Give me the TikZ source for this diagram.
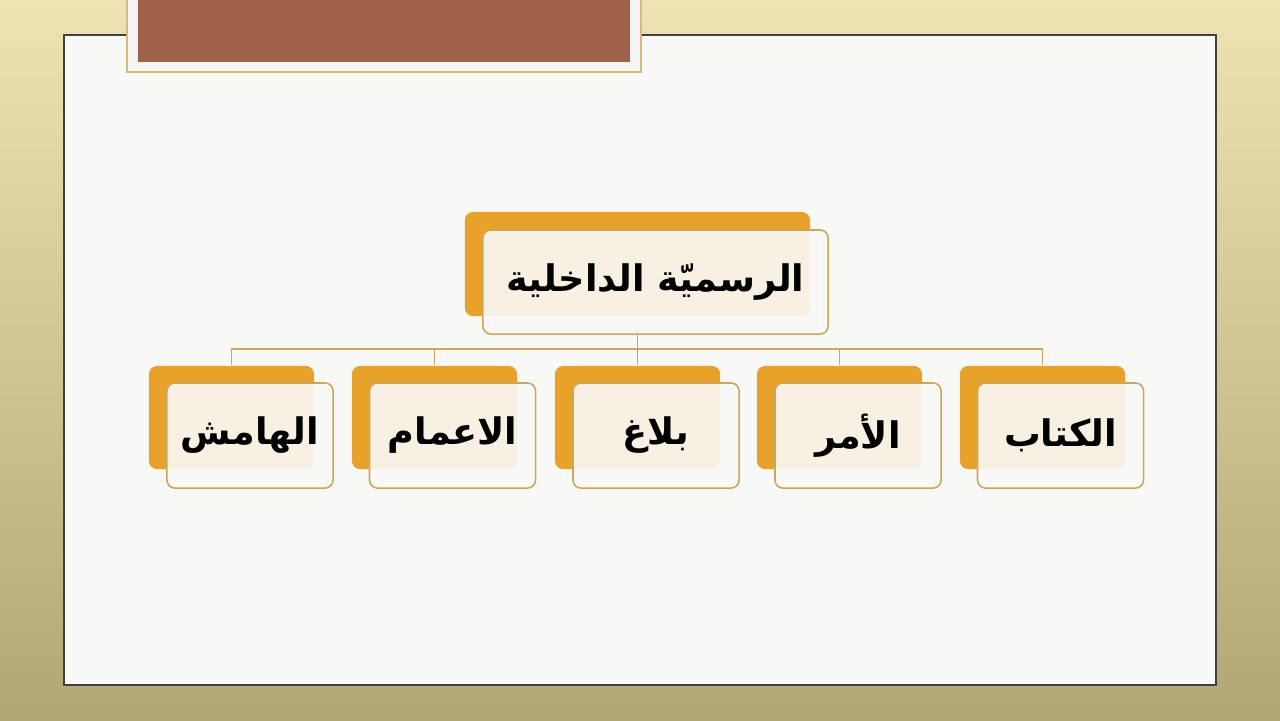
\documentclass[tikz,border=0pt]{standalone}
\usepackage{fontspec}
\usetikzlibrary{calc}
\newfontfamily\arabicfont[Script=Arabic]{DejaVu Sans}
\TeXXeTstate=1

\definecolor{goldbg}{HTML}{EFE3B3}
\definecolor{olivebg}{HTML}{B3A675}
\definecolor{slidefill}{HTML}{F8F8F7}
\definecolor{brownbar}{HTML}{A0614A}
\definecolor{orangeback}{HTML}{E8A22A}
\definecolor{goldline}{HTML}{CDA65E}
\definecolor{frontfill}{HTML}{F9F8F6}

\tikzset{
  backbox/.style={fill=orangeback,rounded corners=0.08cm,minimum width=1.65cm,minimum height=1.03cm,inner sep=0pt},
  frontbox/.style={draw=goldline,line width=0.45pt,fill=frontfill,fill opacity=0.91,text opacity=1,rounded corners=0.08cm,minimum width=1.66cm,minimum height=1.05cm,inner sep=0pt},
  link/.style={draw=goldline,line width=0.45pt},
  label/.style={font=\arabicfont\bfseries\fontsize{10.4}{12}\selectfont}
}

\begin{document}
\begin{tikzpicture}[x=0.01cm,y=-0.01cm]
\useasboundingbox (0,0) rectangle (1280,720);
% background and slide
\shade[top color=goldbg,bottom color=olivebg] (0,0) rectangle (1280,720);
\draw[draw=black!75,line width=0.8pt,fill=slidefill] (64,35) rectangle (1216,685);
\draw[draw=goldline!80,line width=0.5pt,fill=gray!8] (127,-2) rectangle (641,72);
\fill[brownbar] (138,-2) rectangle (630,62);

% back boxes
\node[backbox,minimum width=3.45cm,minimum height=1.04cm] (root) at (637.5,264) {};
\node[backbox] (c1) at (231.5,417.5) {};
\node[backbox] (c2) at (434.5,417.5) {};
\node[backbox] (c3) at (637.5,417.5) {};
\node[backbox] (c4) at (839.5,417.5) {};
\node[backbox] (c5) at (1042.5,417.5) {};

% connectors
\coordinate (bus) at (637.5,349);
\draw[link] (root.south) -- (bus);
\foreach \c in {c1,c2,c3,c4,c5}
  \draw[link] (bus) -| (\c.north);

% front boxes with text
\node[frontbox,minimum width=3.45cm,minimum height=1.04cm,label] (rootf) at (655.5,282) {\beginR الرسميّة الداخلية\endR};
\node[frontbox,label] (c1f) at (250,435.5) {\beginR الهامش\endR};
\node[frontbox,label] (c2f) at (452.5,435.5) {\beginR الاعمام\endR};
\node[frontbox,label] (c3f) at (656,435.5) {\beginR بلاغ\endR};
\node[frontbox,label] (c4f) at (858,435.5) {\beginR الأمر\endR};
\node[frontbox,label] (c5f) at (1060.5,435.5) {\beginR الكتاب\endR};
\end{tikzpicture}
\end{document}
